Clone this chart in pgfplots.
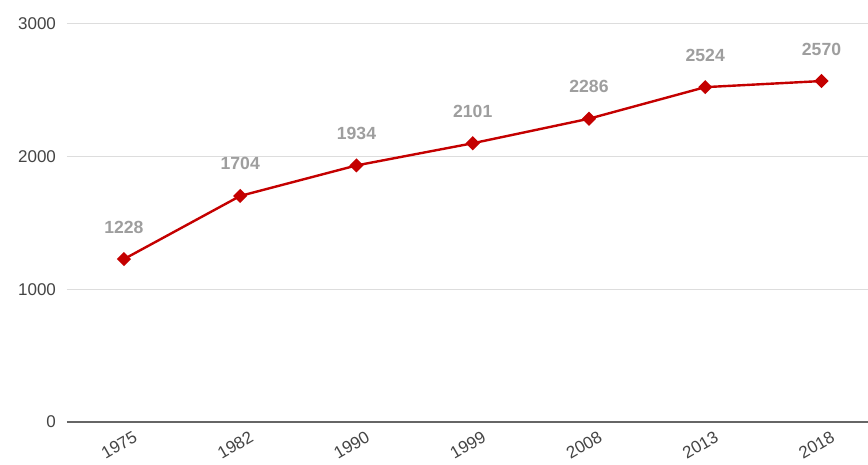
\documentclass[border=0pt]{standalone}
\usepackage{pgfplots}
\pgfplotsset{compat=1.18}
\usepackage{fontspec}
\setmainfont{Liberation Sans}
\definecolor{linered}{HTML}{C40000}
\definecolor{lbl}{HTML}{9E9E9E}
\definecolor{tick}{HTML}{444444}
\definecolor{grid}{HTML}{DDDDDD}
\definecolor{base}{HTML}{666666}
\begin{document}
\begin{tikzpicture}
\useasboundingbox (-33.5pt,-21.5pt) rectangle (400.5pt,211pt);
\begin{axis}[
  scale only axis, width=400.5pt, height=199pt,
  at={(0,0)}, anchor=south west,
  xmin=-0.49, xmax=6.4, ymin=0, ymax=3000,
  axis line style={draw=none},
  xtick={0,...,6},
  xticklabels={1975,1982,1990,1999,2008,2013,2018},
  ytick={0,1000,2000,3000},
  ymajorgrids, grid style={draw=grid, line width=0.5pt},
  major tick length=0pt,
  tick label style={font=\fontsize{8.5}{10}\selectfont, text=tick},
  xticklabel style={rotate=30, anchor=north east, xshift=2.8pt, yshift=-4.5pt, inner sep=1pt},
  yticklabel style={xshift=-2pt},
  /pgf/number format/assume math mode=true,
  scaled y ticks=false,
  yticklabel={\pgfmathprintnumber[fixed,1000 sep={}]{\tick}},
  nodes near coords,
  nodes near coords style={font=\bfseries\fontsize{8.8}{10}\selectfont, text=lbl, yshift=9pt},
  point meta=explicit symbolic,
  clip=false,
]
\draw[base, line width=1pt] (axis cs:-0.49,0) -- (axis cs:6.4,0);
\addplot[linered, line width=1.2pt, mark=square*, mark size=1.9pt, mark options={fill=linered, draw=linered, rotate=45}]
  table[meta=lab] {
  x y lab
  0 1228 1228
  1 1704 1704
  2 1934 1934
  3 2101 2101
  4 2286 2286
  5 2524 2524
  6 2570 2570
  };
\end{axis}
\end{tikzpicture}
\end{document}
